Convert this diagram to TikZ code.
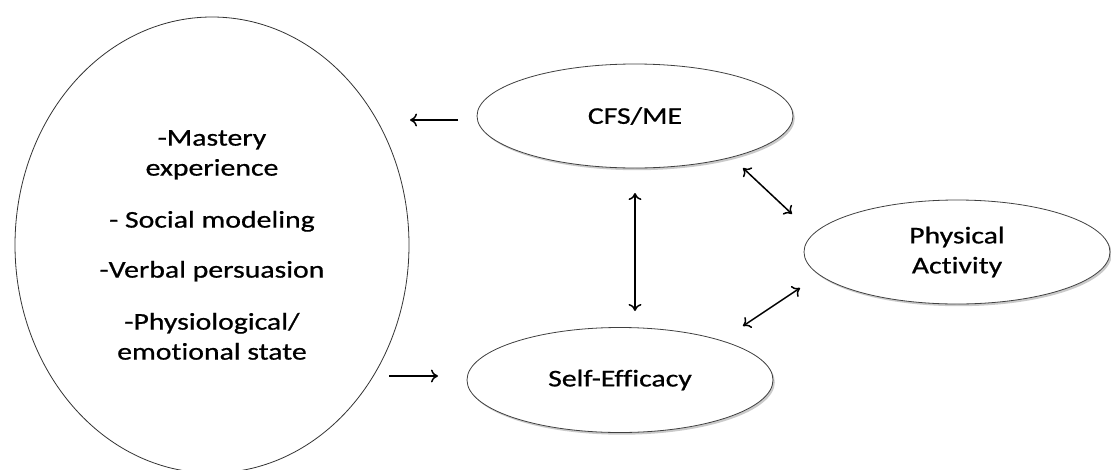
\documentclass[tikz,border=0pt]{standalone}
\usepackage{fontspec}
\setmainfont{Carlito}[FakeStretch=1.24, FakeBold=0.7, Ligatures=NoCommon]
\usetikzlibrary{shapes.geometric,shadows,arrows.meta}

\tikzset{
  bubble/.style={ellipse, draw=black!75, line width=0.8pt, fill=white,
    drop shadow={shadow xshift=1.8pt, shadow yshift=-2.2pt, opacity=0.35, fill=black!60},
    inner sep=0pt, align=center, font=\fontsize{24}{30}\selectfont},
  bigbubble/.style={ellipse, draw=black!80, line width=0.8pt, fill=white,
    inner sep=0pt, align=center, font=\fontsize{24}{30}\selectfont},
  tip/.style={To[length=7pt,width=13pt,line width=1.4pt]},
  link/.style={line width=1.5pt, -{To[length=7pt,width=13pt]}},
  dlink/.style={line width=1.5pt, {To[length=7pt,width=13pt]}-{To[length=7pt,width=13pt]}}
}

\begin{document}
\begin{tikzpicture}[x=1pt,y=-1pt]
  \useasboundingbox (0,0) rectangle (1111,469);

  % sources of self-efficacy
  \node[bigbubble, minimum width=394pt, minimum height=456pt] (src) at (212,245)
    {-Mastery\\experience\\[22pt]- Social modeling\\[20pt]-Verbal persuasion\\[22pt]-Physiological/\\emotional state};

  % the three constructs
  \node[bubble, minimum width=316pt, minimum height=104pt] (cfs) at (635,116) {CFS/ME};
  \node[bubble, minimum width=306pt, minimum height=104pt] (pa) at (957,252) {Physical\\Activity};
  \node[bubble, minimum width=306pt, minimum height=105pt] (se) at (620,380) {Self-Efficacy};

  % free ends of the connectors
  \coordinate (c1) at (458,120);
  \coordinate (c2) at (410,120);
  \coordinate (c3) at (389,376);
  \coordinate (c4) at (438,376);
  \coordinate (v1) at (635,193);
  \coordinate (v2) at (635,311);
  \coordinate (d1) at (743,168);
  \coordinate (d2) at (792,214);
  \coordinate (d3) at (800,288);
  \coordinate (d4) at (743,326);

  \draw[link] (c1) -- (c2);
  \draw[link] (c3) -- (c4);
  \draw[dlink] (v1) -- (v2);
  \draw[dlink] (d1) -- (d2);
  \draw[dlink] (d3) -- (d4);
\end{tikzpicture}
\end{document}
